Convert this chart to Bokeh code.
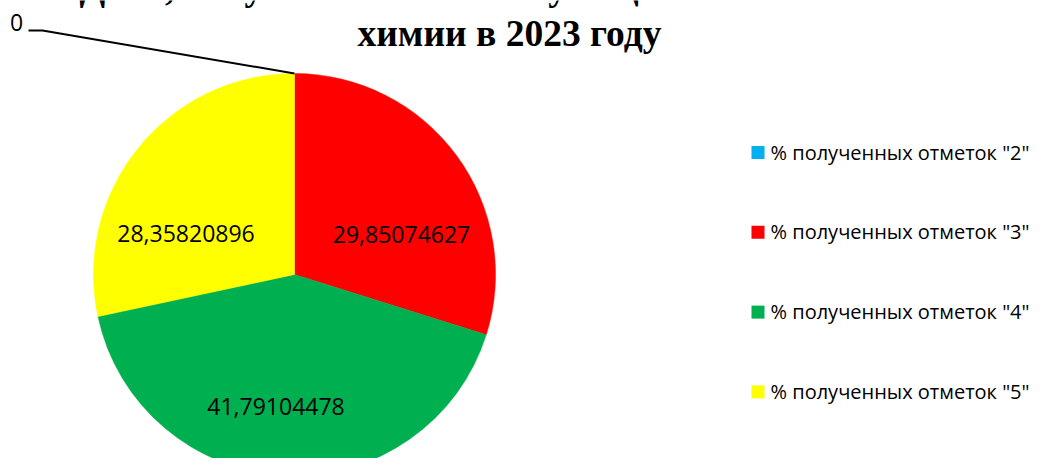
import math
from bokeh.plotting import figure
from bokeh.models import Range1d
from bokeh.core.properties import value
from bokeh.embed import file_html
from bokeh.resources import INLINE

# ---- data ----
categories = ['% полученных отметок "2"', '% полученных отметок "3"',
              '% полученных отметок "4"', '% полученных отметок "5"']
values = [0, 29.85074627, 41.79104478, 28.35820896]
value_labels = ["0", "29,85074627", "41,79104478", "28,35820896"]
colors = ["#00B0F0", "#FF0000", "#00B050", "#FFFF00"]
title_lines = ["Доля, полученных отметок учащимися на ОГЭ по", "химии в 2023 году"]

# ---- layout / style ----
W, H = 1034, 458
BASE_FIX = 0.37  # baseline correction, fraction of font size


def X(xr):
    return xr


def Y(yr):
    return H - yr


def TY(yr, size):
    # screen baseline -> data y, with the renderer's baseline shift compensated
    return H - (yr - BASE_FIX * size)


cx, cy, R = X(294), Y(274), 201
LBL = 23
# label offsets from the pie centre (screen px: right, down) -> baseline anchor
label_offsets = [(-278, -243), (107, -31), (-18.5, 141), (-108.5, -32)]

p = figure(width=W, height=H, output_backend="svg", toolbar_location=None,
           x_range=Range1d(0, W), y_range=Range1d(0, H), min_border=0)
p.axis.visible = False
p.grid.visible = False
p.outline_line_color = None
p.background_fill_color = "white"
p.border_fill_color = "white"

total = sum(values)
cum = 0.0
for v, c in zip(values, colors):
    a0 = math.pi / 2 - 2 * math.pi * cum / total
    cum += v
    a1 = math.pi / 2 - 2 * math.pi * cum / total
    if v > 0:
        p.wedge(x=[cx], y=[cy], radius=R, start_angle=a0, end_angle=a1,
                direction="clock", fill_color=c, line_color=c, line_width=0.5)

# data labels
for i, lab in enumerate(value_labels):
    dx, dy = label_offsets[i]
    p.text(x=[cx + dx], y=[TY(274 + dy, LBL)], text=[lab], text_align="center",
           text_baseline="alphabetic", text_font=value("Open Sans"),
           text_font_size=f"{LBL}px", text_color="black")

# leader line for the zero slice (ends at the slice position on the rim)
ang0 = math.pi / 2
ex, ey = cx + R * math.cos(ang0), cy + R * math.sin(ang0)
lx, ly = cx + label_offsets[0][0], Y(274 + label_offsets[0][1])
p.line(x=[lx + 12, lx + 26, ex], y=[ly + 1, ly + 1, ey], line_color="black", line_width=2)

# title
TS = 37.5
p.text(x=[X(505)], y=[TY(1, TS)], text=[title_lines[0]], text_align="center",
       text_baseline="alphabetic", text_font=value("Liberation Serif"),
       text_font_style="bold", text_font_size=f"{TS}px", text_color="black")
p.text(x=[X(509)], y=[TY(47, TS)], text=[title_lines[1]], text_align="center",
       text_baseline="alphabetic", text_font=value("Liberation Serif"),
       text_font_style="bold", text_font_size=f"{TS}px", text_color="black")

# legend
LS = 20
leg_y0, leg_step = 152, 79.8
for i, (cat, c) in enumerate(zip(categories, colors)):
    yy = leg_y0 + i * leg_step
    p.rect(x=[X(757.5)], y=[Y(yy)], width=13, height=13, fill_color=c, line_color=None)
    p.text(x=[X(770)], y=[TY(yy + 7, LS)], text=[cat], text_align="left",
           text_baseline="alphabetic", text_font=value("Open Sans"),
           text_font_size=f"{LS}px", text_color="#000000")

open("out.html", "w").write(file_html(p, INLINE))
